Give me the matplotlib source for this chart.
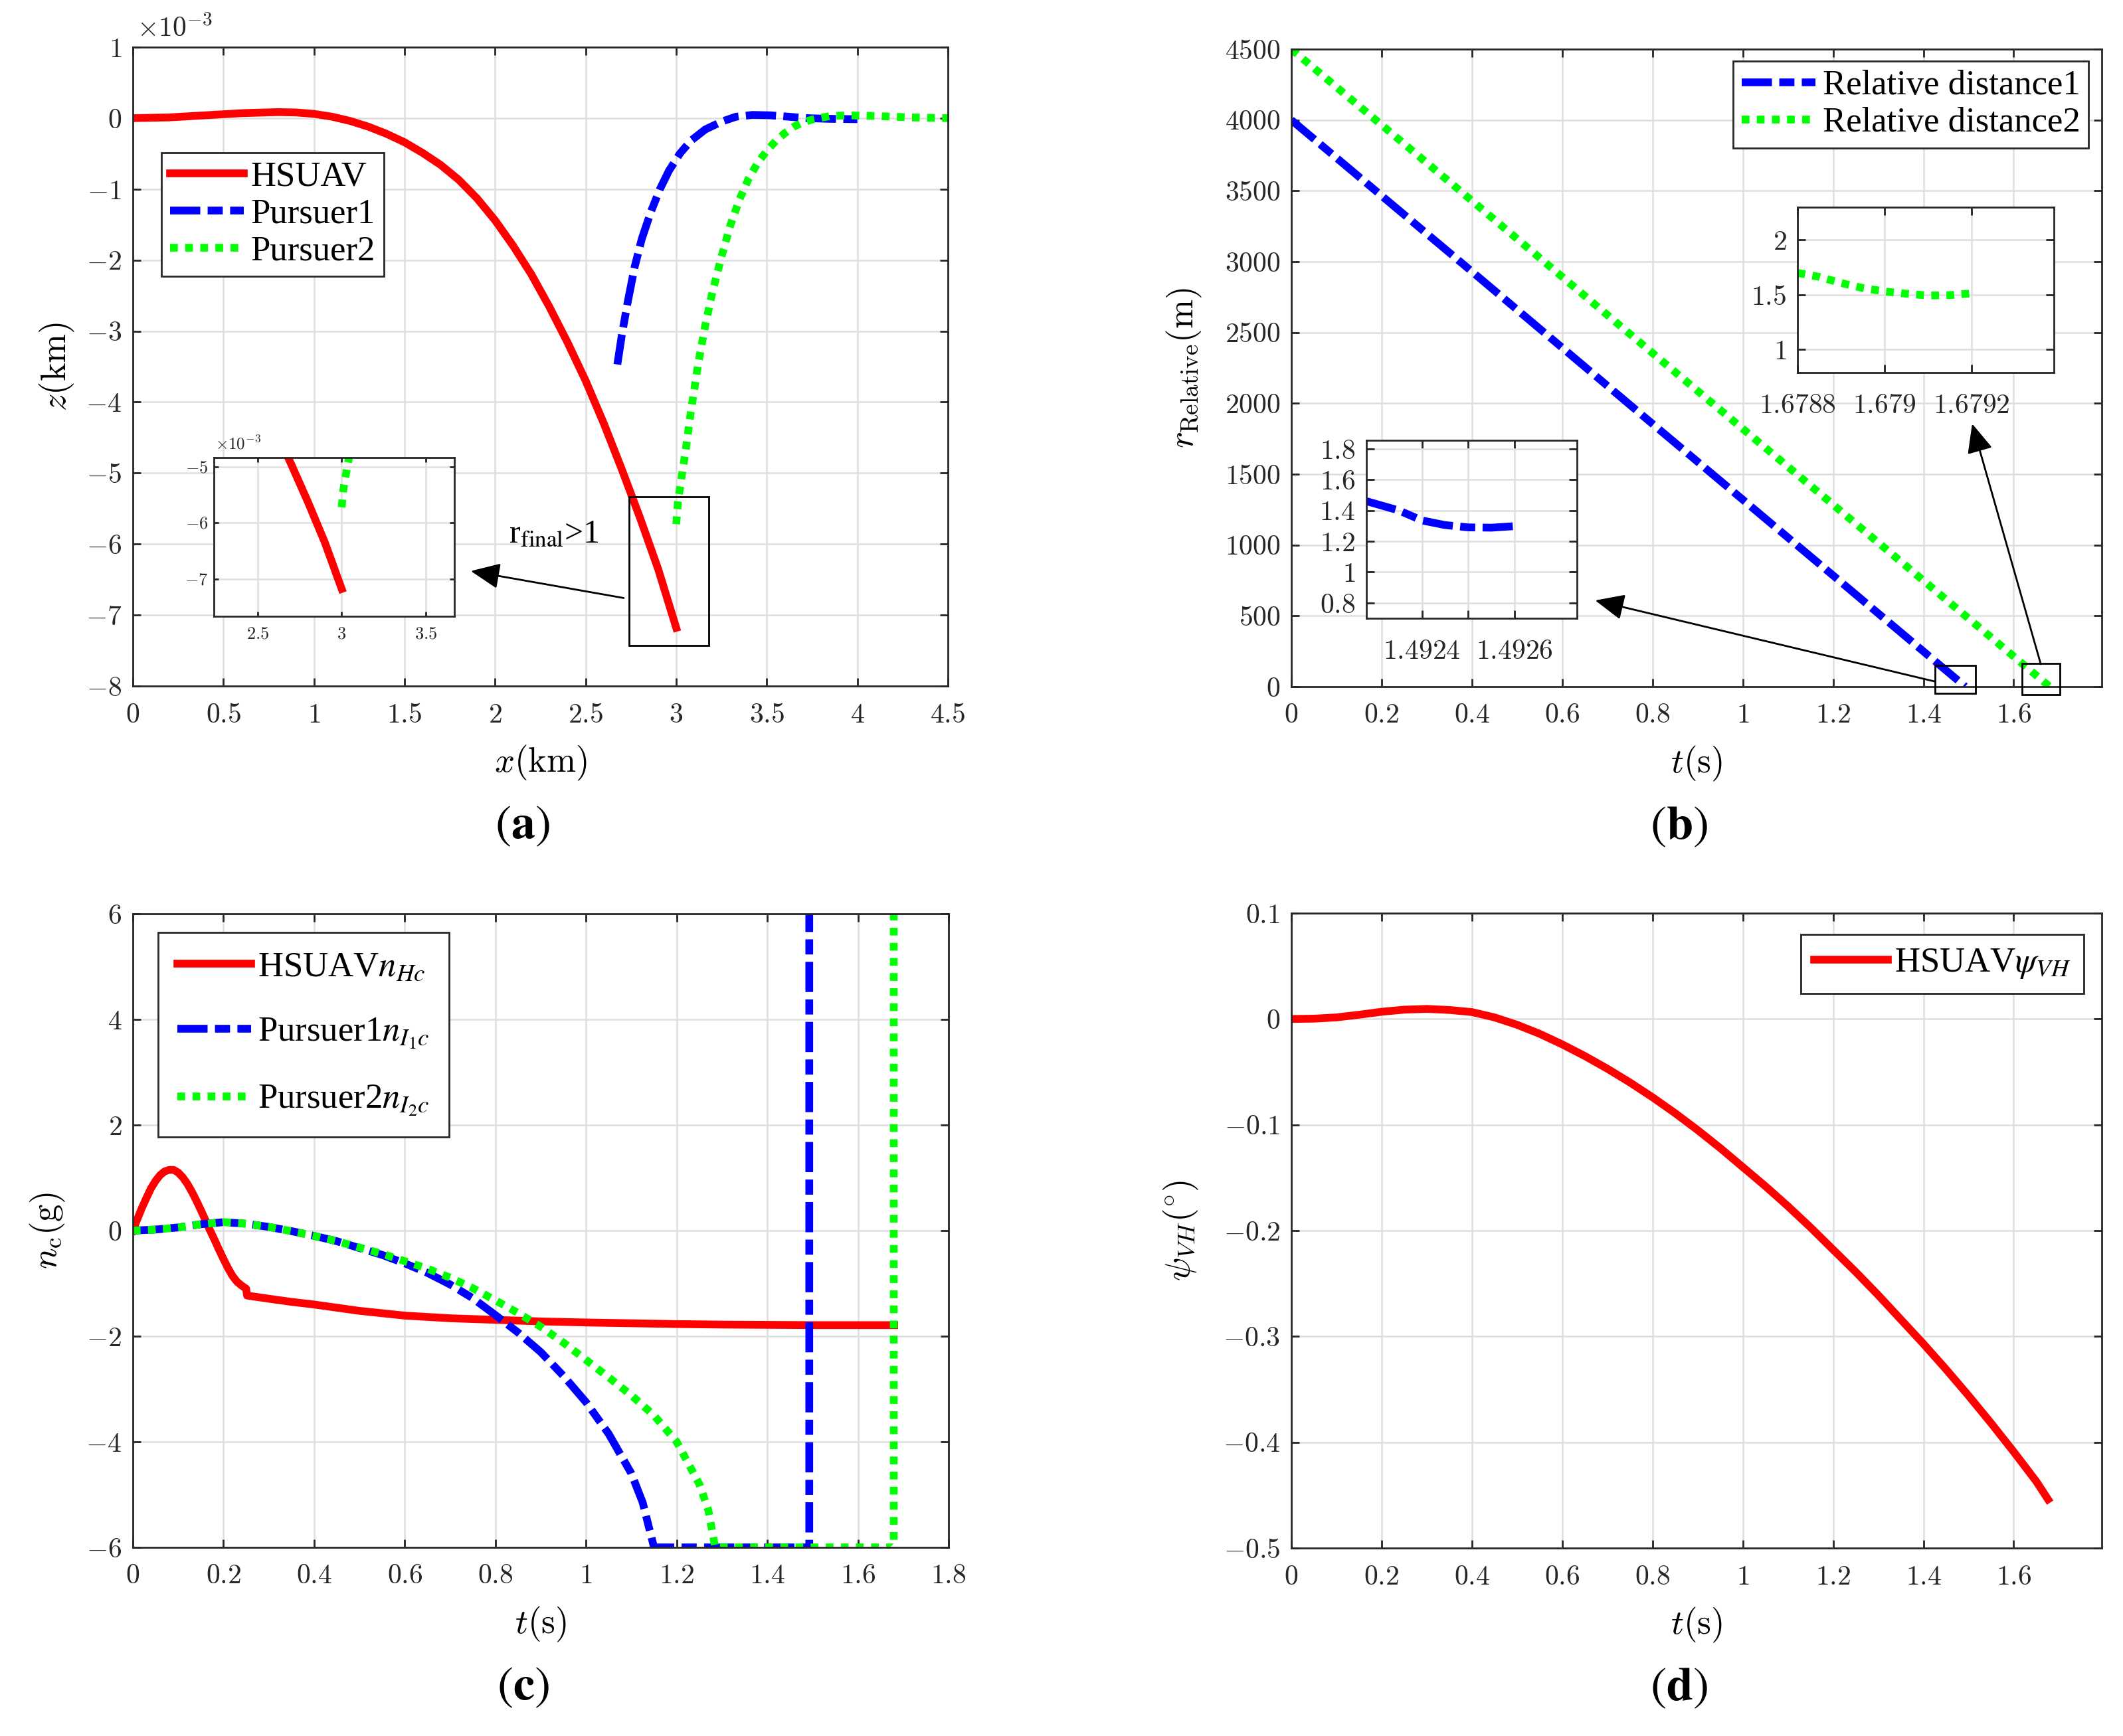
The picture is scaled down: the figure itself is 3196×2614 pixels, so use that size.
import numpy as np
import matplotlib
matplotlib.use('Agg')
import matplotlib.pyplot as plt
from matplotlib.ticker import FuncFormatter, MultipleLocator, FixedLocator
from matplotlib.patches import Rectangle

plt.rcParams['font.family'] = ['Liberation Serif', 'DejaVu Serif']
plt.rcParams['mathtext.fontset'] = 'cm'

### (a) trajectories, z in units of 1e-3 km
xa_hsuav = [0, 0.2, 0.4, 0.6, 0.8, 0.9, 1.0, 1.1, 1.2, 1.3, 1.4, 1.5, 1.6, 1.7, 1.8, 1.9,
            2.0, 2.1, 2.2, 2.3, 2.4, 2.5, 2.6, 2.7, 2.8, 2.9, 3.0]
za_hsuav = [0, 0.01, 0.04, 0.07, 0.085, 0.08, 0.06, 0.02, -0.04, -0.12, -0.22, -0.34, -0.49,
            -0.66, -0.87, -1.13, -1.44, -1.80, -2.20, -2.66, -3.16, -3.70, -4.30, -4.95,
            -5.63, -6.35, -7.18]
xa_p1 = [2.675, 2.70, 2.73, 2.77, 2.81, 2.86, 2.91, 2.96, 3.02, 3.08, 3.16, 3.25, 3.33,
         3.42, 3.52, 3.62, 3.72, 3.85, 4.0]
za_p1 = [-3.47, -3.05, -2.62, -2.10, -1.70, -1.32, -1.00, -0.74, -0.50, -0.32, -0.16, -0.05,
         0.02, 0.045, 0.04, 0.02, 0.0, -0.01, -0.015]
xa_p2 = [3.00, 3.01, 3.03, 3.05, 3.08, 3.12, 3.16, 3.20, 3.25, 3.30, 3.35, 3.40, 3.45, 3.50,
         3.55, 3.60, 3.65, 3.70, 3.75, 3.85, 3.95, 4.10, 4.30, 4.50]
za_p2 = [-5.72, -5.40, -5.05, -4.72, -4.15, -3.48, -2.92, -2.45, -1.95, -1.50, -1.14, -0.85,
         -0.63, -0.46, -0.32, -0.21, -0.12, -0.06, -0.02, 0.03, 0.04, 0.03, 0.01, 0.0]

### (b) relative distances
tb_1 = [0, 0.4, 0.8, 1.2, 1.4926]
rb_1 = [4000, 2930, 1855, 785, 1.3]
tb_2 = [0, 0.4, 0.8, 1.2, 1.6792]
rb_2 = [4500, 3430, 2355, 1285, 1.5]
tb_1_zoom = [1.49228, 1.49235, 1.4924, 1.49245, 1.4925, 1.49255, 1.4926]
rb_1_zoom = [1.46, 1.40, 1.335, 1.305, 1.29, 1.288, 1.298]
tb_2_zoom = [1.6788, 1.67885, 1.6789, 1.67895, 1.679, 1.67905, 1.6791, 1.67915, 1.6792]
rb_2_zoom = [1.70, 1.664, 1.608, 1.562, 1.531, 1.51, 1.494, 1.497, 1.512]

### (c) overload commands
tc_h = [0, 0.01, 0.02, 0.03, 0.04, 0.05, 0.06, 0.07, 0.08, 0.09, 0.10, 0.11, 0.12, 0.13,
        0.14, 0.15, 0.16, 0.17, 0.18, 0.19, 0.20, 0.21, 0.22, 0.23, 0.24, 0.245, 0.25,
        0.252, 0.3, 0.35, 0.4, 0.5, 0.6, 0.7, 0.8, 0.9, 1.0, 1.1, 1.2, 1.3, 1.4, 1.5,
        1.6, 1.68]
nc_h = [0, 0.22, 0.43, 0.62, 0.80, 0.94, 1.05, 1.12, 1.15, 1.15, 1.10, 1.01, 0.89, 0.74,
        0.57, 0.39, 0.20, 0.01, -0.17, -0.36, -0.54, -0.71, -0.86, -0.97, -1.04, -1.07,
        -1.10, -1.23, -1.29, -1.35, -1.40, -1.52, -1.61, -1.66, -1.69, -1.72, -1.74,
        -1.755, -1.77, -1.78, -1.785, -1.79, -1.79, -1.79]
tc_p1 = [0, 0.05, 0.1, 0.15, 0.2, 0.25, 0.3, 0.35, 0.4, 0.45, 0.5, 0.55, 0.6, 0.65, 0.7,
         0.75, 0.8, 0.85, 0.9, 0.95, 1.0, 1.05, 1.1, 1.125, 1.15, 1.3, 1.4926, 1.4926]
nc_p1 = [0, 0.02, 0.06, 0.12, 0.16, 0.13, 0.07, -0.01, -0.1, -0.2, -0.33, -0.46, -0.62,
         -0.80, -1.02, -1.28, -1.6, -1.93, -2.3, -2.75, -3.25, -3.85, -4.6, -5.15, -6.0,
         -6.0, -6.0, 100]
tc_p2 = [0, 0.05, 0.1, 0.15, 0.2, 0.25, 0.3, 0.35, 0.4, 0.45, 0.5, 0.55, 0.6, 0.65, 0.7,
         0.75, 0.8, 0.85, 0.9, 0.95, 1.0, 1.05, 1.1, 1.15, 1.2, 1.25, 1.27, 1.285, 1.5,
         1.679, 1.679]
nc_p2 = [0, 0.02, 0.06, 0.12, 0.16, 0.13, 0.07, -0.01, -0.1, -0.2, -0.32, -0.44, -0.58,
         -0.72, -0.89, -1.09, -1.32, -1.56, -1.82, -2.12, -2.45, -2.78, -3.12, -3.5, -4.0,
         -4.8, -5.3, -6.0, -6.0, -6.0, 100]

### (d) heading angle
td = [0, 0.05, 0.1, 0.15, 0.2, 0.25, 0.3, 0.35, 0.4, 0.45, 0.5, 0.55, 0.6, 0.65, 0.7,
      0.75, 0.8, 0.85, 0.9, 0.95, 1.0, 1.05, 1.1, 1.15, 1.2, 1.25, 1.3, 1.35, 1.4, 1.45,
      1.5, 1.55, 1.6, 1.65, 1.676]
psi_d = [0, 0.0003, 0.0015, 0.004, 0.0068, 0.0088, 0.0095, 0.0085, 0.0065, 0.0015,
         -0.0055, -0.014, -0.024, -0.035, -0.047, -0.060, -0.074, -0.089, -0.105, -0.122,
         -0.140, -0.158, -0.177, -0.197, -0.218, -0.239, -0.261, -0.284, -0.307, -0.331,
         -0.356, -0.382, -0.409, -0.437, -0.454]

RED, BLUE, GREEN = '#ff0000', '#0000ff', '#00ff00'
LW = 4.2
DASH = (3.9, 0.95, 1.95, 0.95)
DOT = (1.0, 0.95)
AX_COL = '#262626'
GRID_COL = '#dfdfdf'
W, H = 3196, 2614


def fmt(v, pos):
    if abs(v) < 1e-12:
        v = 0
    return '$%s$' % ('%g' % v)


def style(ax, fs=15, xpad=9, ypad=6, ticklen=4.3):
    ax.grid(True, color=GRID_COL, lw=0.9)
    ax.set_axisbelow(True)
    for sp in ax.spines.values():
        sp.set_color(AX_COL)
        sp.set_linewidth(1.0)
    ax.tick_params(direction='in', top=True, right=True, length=ticklen, width=1.0,
                   color=AX_COL, labelcolor=AX_COL, labelsize=fs)
    ax.tick_params(axis='x', pad=xpad)
    ax.tick_params(axis='y', pad=ypad)
    ax.xaxis.set_major_formatter(FuncFormatter(fmt))
    ax.yaxis.set_major_formatter(FuncFormatter(fmt))


def labels(ax, xl, yl, tag, ylx, hpx):
    ax.set_xlabel(xl, fontsize=19, color='k', va='center')
    ax.xaxis.set_label_coords(0.5, -116 / hpx)
    ax.set_ylabel(yl, fontsize=19, color='k', va='center')
    ax.yaxis.set_label_coords(ylx, 0.5)
    ax.text(0.478, -212 / hpx, tag, transform=ax.transAxes, ha='center', va='center',
            fontsize=26, math_fontfamily='stix')


def legend(ax, loc, anchor, spacing=0.15, pad=0.25):
    leg = ax.legend(loc=loc, bbox_to_anchor=anchor, borderaxespad=0, fontsize=19,
                    fancybox=False, framealpha=1, handlelength=2.1, handletextpad=0.2,
                    labelspacing=spacing, borderpad=pad)
    leg.get_frame().set_edgecolor(AX_COL)
    leg.get_frame().set_linewidth(1.0)
    for t in leg.get_texts():
        t.set_math_fontfamily('stix')
    return leg


def arrow(ax, start, tip):
    ax.annotate('', xy=tip, xytext=start,
                arrowprops=dict(arrowstyle='-|>,head_length=0.45,head_width=0.2',
                                color='k', lw=1.0, mutation_scale=30,
                                shrinkA=0, shrinkB=0))


def box(x0, y0, x1, y1):
    # pixel box -> figure fraction rect
    return [x0 / W, 1 - y1 / H, (x1 - x0) / W, (y1 - y0) / H]


fig = plt.figure(figsize=(W / 200, H / 200), dpi=200)

### (a)
ax = fig.add_axes(box(200, 71, 1427, 1033))
ax.plot(xa_hsuav, za_hsuav, color=RED, lw=LW, label='HSUAV')
ax.plot(xa_p1, za_p1, color=BLUE, lw=LW, dashes=DASH, label='Pursuer1')
ax.plot(xa_p2, za_p2, color=GREEN, lw=LW, dashes=DOT, label='Pursuer2')
ax.set_xlim(0, 4.5)
ax.set_ylim(-8, 1)
ax.xaxis.set_major_locator(MultipleLocator(0.5))
ax.yaxis.set_major_locator(MultipleLocator(1))
style(ax)
labels(ax, r'$x\mathrm{(km)}$', r'$z\mathrm{(km)}$', r'$(\mathbf{a})$', -0.093, 962)
ax.text(0.005, 1 + 7 / 962, r'$\times10^{-3}$', transform=ax.transAxes, fontsize=15,
        color=AX_COL, ha='left', va='bottom')
legend(ax, 'upper left', (0.035, 0.835))
ax.add_patch(Rectangle((2.74, -7.43), 0.44, 2.10, fill=False, ec='k', lw=1.0, zorder=5))
arrow(ax, (2.71, -6.76), (1.866, -6.38))
ax.text(2.075, -5.97, r'r$_{\mathrm{final}}$>1', fontsize=18, ha='left', va='baseline',
        math_fontfamily='stix')

axi = fig.add_axes(box(322, 689, 684, 928))
axi.plot(xa_hsuav, za_hsuav, color=RED, lw=LW)
axi.plot(xa_p2, za_p2, color=GREEN, lw=LW, dashes=DOT)
axi.set_xlim(2.24, 3.67)
axi.set_ylim(-7.67, -4.83)
axi.xaxis.set_major_locator(FixedLocator([2.5, 3, 3.5]))
axi.yaxis.set_major_locator(FixedLocator([-7, -6, -5]))
style(axi, fs=9.5, xpad=6, ypad=3, ticklen=2.5)
axi.text(0.005, 1.03, r'$\times10^{-3}$', transform=axi.transAxes, fontsize=9,
         color=AX_COL, ha='left', va='bottom')

### (b)
ax = fig.add_axes(box(1944, 74, 3164, 1034))
ax.plot(tb_1, rb_1, color=BLUE, lw=LW, dashes=DASH, label='Relative distance1')
ax.plot(tb_2, rb_2, color=GREEN, lw=LW, dashes=DOT, label='Relative distance2')
ax.set_xlim(0, 1.795)
ax.set_ylim(0, 4500)
ax.xaxis.set_major_locator(FixedLocator(np.arange(0, 1.61, 0.2)))
ax.yaxis.set_major_locator(MultipleLocator(500))
style(ax)
labels(ax, r'$t\mathrm{(s)}$', r'$r_{\mathrm{Relative}}\mathrm{(m)}$', r'$(\mathbf{b})$',
       -0.132, 960)
legend(ax, 'upper right', (0.984, 0.981))
ax.add_patch(Rectangle((1.425, -47), 0.09, 197, fill=False, ec='k', lw=1.0, clip_on=False, zorder=5))
ax.add_patch(Rectangle((1.618, -56), 0.084, 220, fill=False, ec='k', lw=1.0, clip_on=False, zorder=5))
arrow(ax, (1.425, 37), (0.673, 609))
arrow(ax, (1.66, 159), (1.508, 1856))

axi = fig.add_axes(box(2057, 663, 2374, 931))
axi.plot(tb_1_zoom, rb_1_zoom, color=BLUE, lw=LW, dashes=DASH)
axi.set_xlim(1.49228, 1.492735)
axi.set_ylim(0.70, 1.855)
axi.xaxis.set_major_locator(FixedLocator([1.4924, 1.4925, 1.4926]))
axi.yaxis.set_major_locator(FixedLocator([0.8, 1.0, 1.2, 1.4, 1.6, 1.8]))
style(axi, xpad=11.5)
axi.xaxis.set_major_formatter(FuncFormatter(lambda v, p: '' if p == 1 else fmt(v, p)))

axi = fig.add_axes(box(2706, 312, 3092, 561))
axi.plot(tb_2_zoom, rb_2_zoom, color=GREEN, lw=LW, dashes=DOT)
axi.set_xlim(1.6788, 1.67939)
axi.set_ylim(0.79, 2.3)
axi.xaxis.set_major_locator(FixedLocator([1.6788, 1.679, 1.6792]))
axi.yaxis.set_major_locator(FixedLocator([1.0, 1.5, 2.0]))
style(axi, xpad=11.5)

### (c)
ax = fig.add_axes(box(200, 1376, 1428, 2330))
ax.plot(tc_h, nc_h, color=RED, lw=LW, label=r'HSUAV$n_{Hc}$')
ax.plot(tc_p1, nc_p1, color=BLUE, lw=LW, dashes=DASH, label=r'Pursuer1$n_{I_1c}$')
ax.plot(tc_p2, nc_p2, color=GREEN, lw=LW, dashes=DOT, label=r'Pursuer2$n_{I_2c}$')
ax.set_xlim(0, 1.8)
ax.set_ylim(-6, 6)
ax.xaxis.set_major_locator(MultipleLocator(0.2))
ax.yaxis.set_major_locator(MultipleLocator(2))
style(ax)
labels(ax, r'$t\mathrm{(s)}$', r'$n_{\mathrm{c}}\mathrm{(g)}$', r'$(\mathbf{c})$', -0.104, 954)
legend(ax, 'upper left', (0.031, 0.971), spacing=0.95, pad=0.55)

### (d)
ax = fig.add_axes(box(1944, 1375, 3164, 2331))
ax.plot(td, psi_d, color=RED, lw=LW, label=r'HSUAV$\psi_{VH}$')
ax.set_xlim(0, 1.795)
ax.set_ylim(-0.5, 0.1)
ax.xaxis.set_major_locator(FixedLocator(np.arange(0, 1.61, 0.2)))
ax.yaxis.set_major_locator(MultipleLocator(0.1))
style(ax)
labels(ax, r'$t\mathrm{(s)}$', r'$\psi_{VH}(^{\circ})$', r'$(\mathbf{d})$', -0.136, 956)
legend(ax, 'upper right', (0.978, 0.967), pad=0.37)

fig.savefig('out.png', dpi=200)
